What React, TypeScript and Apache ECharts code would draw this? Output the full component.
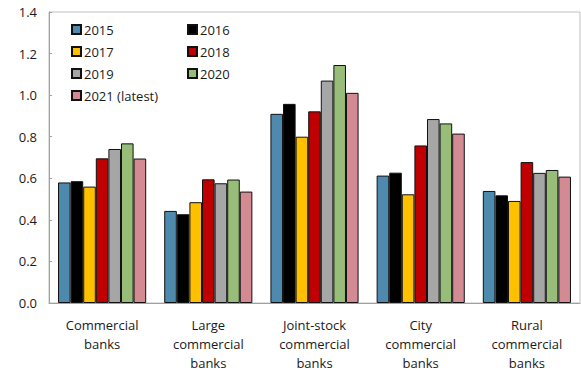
import React, { useEffect, useRef } from "react";
import * as echarts from "echarts";

const categories = [
  "Commercial\nbanks",
  "Large\ncommercial\nbanks",
  "Joint-stock\ncommercial\nbanks",
  "City\ncommercial\nbanks",
  "Rural\ncommercial\nbanks",
];
const years = ["2015", "2016", "2017", "2018", "2019", "2020", "2021 (latest)"];
const colors = ["#4D8AAD", "#000000", "#FFC000", "#C00000", "#A6A6A6", "#97BD78", "#D48A93"];

const v2015 = [0.58, 0.443, 0.91, 0.613, 0.539];
const v2016 = [0.586, 0.427, 0.958, 0.627, 0.518];
const v2017 = [0.56, 0.485, 0.8, 0.523, 0.491];
const v2018 = [0.696, 0.595, 0.922, 0.758, 0.678];
const v2019 = [0.741, 0.576, 1.07, 0.885, 0.626];
const v2020 = [0.768, 0.594, 1.145, 0.864, 0.64];
const v2021 = [0.695, 0.536, 1.011, 0.815, 0.608];
const seriesValues = [v2015, v2016, v2017, v2018, v2019, v2020, v2021];

const yTicks = { min: 0, max: 1.4, interval: 0.2 };
const FONT = "'Open Sans', 'Noto Sans', sans-serif";

export default function App() {
  const ref = useRef<HTMLDivElement>(null);
  useEffect(() => {
    if (!ref.current) return;
    const chart = echarts.init(ref.current, undefined, { renderer: "svg" });
    const legendCommon = {
      orient: "vertical" as const,
      itemWidth: 9,
      itemHeight: 9,
      itemGap: 9,
      icon: "rect",
      textStyle: { fontSize: 13, color: "#1a1a1a", fontFamily: FONT, padding: [0, 0, 0, -2] },
      padding: 0,
      selectedMode: false,
    };
    chart.setOption({
      animation: false,
      grid: {
        left: 49,
        right: 1,
        top: 12,
        bottom: 67,
        show: true,
        borderColor: "#BFBFBF",
        borderWidth: 1,
      },
      legend: [
        { ...legendCommon, left: 71, top: 23, data: [years[0], years[2], years[4], years[6]] },
        { ...legendCommon, left: 187, top: 23, data: [years[1], years[3], years[5]] },
      ],
      xAxis: {
        type: "category",
        data: categories,
        axisLine: { lineStyle: { color: "#A0A0A0" } },
        axisTick: { inside: true, length: 4, lineStyle: { color: "#A0A0A0" } },
        axisLabel: {
          fontSize: 13,
          lineHeight: 19,
          color: "#1a1a1a",
          fontFamily: FONT,
          margin: 12,
          interval: 0,
        },
      },
      yAxis: {
        type: "value",
        min: yTicks.min,
        max: yTicks.max,
        interval: yTicks.interval,
        splitLine: { show: false },
        axisLine: { show: true, lineStyle: { color: "#A0A0A0" } },
        axisTick: { show: true, inside: true, length: 3, lineStyle: { color: "#A0A0A0" } },
        axisLabel: {
          fontSize: 13,
          color: "#1a1a1a",
          fontFamily: FONT,
          margin: 12,
          formatter: (v: number) => v.toFixed(1),
        },
      },
      series: years.map((y, i) => ({
        name: y,
        type: "bar",
        data: seriesValues[i],
        barGap: "0%",
        barCategoryGap: "17%",
        itemStyle: { color: colors[i], borderColor: "#111", borderWidth: 1 },
      })),
    });
    return () => chart.dispose();
  }, []);
  return (
    <div
      ref={ref}
      style={{ position: "fixed", left: 0, top: 0, width: 581, height: 372, background: "#fff" }}
    />
  );
}
